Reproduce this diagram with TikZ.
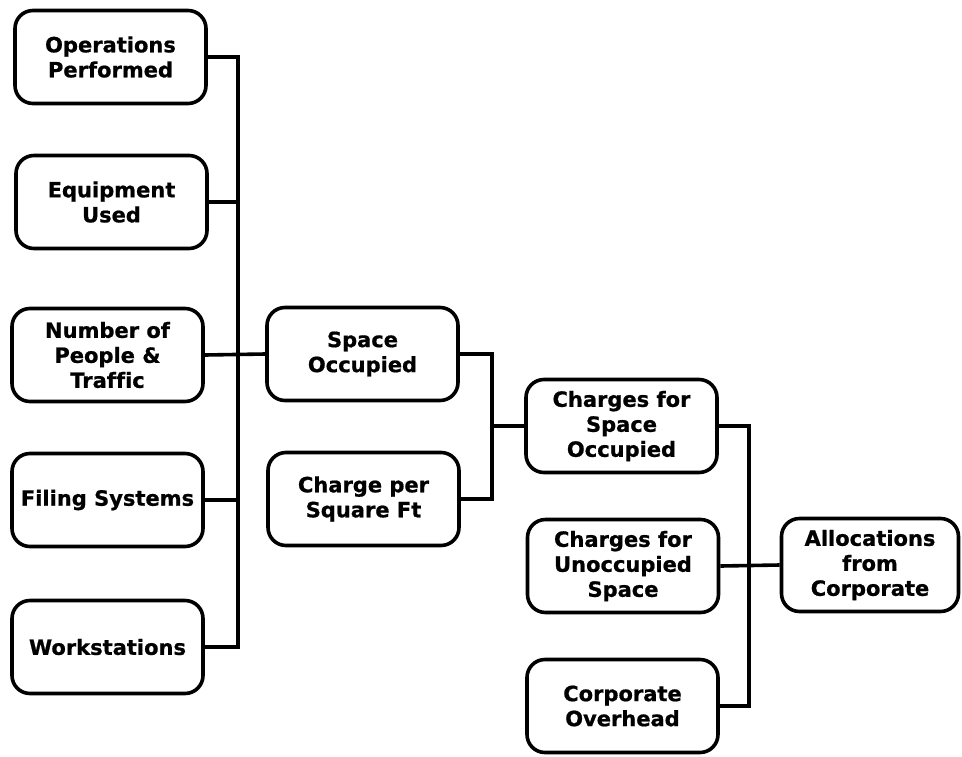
\documentclass[tikz,border=0pt]{standalone}
\usepackage{fontspec}
\setmainfont[Ligatures=NoCommon, BoldFeatures={FakeBold=0.8}]{DejaVu Sans}
\begin{document}
\begin{tikzpicture}[x=1pt,y=-1pt,
  box/.style={draw=black, line width=3.6pt, rounded corners=18pt, fill=white,
    align=center, inner sep=0pt, minimum width=191pt, minimum height=93pt,
    font=\fontsize{21}{25}\selectfont\bfseries},
  conn/.style={draw=black, line width=3.6pt}]
\useasboundingbox (0,0) rectangle (962,756);
% left column
\node[box] (ops)    at (110.5,57)  {Operations\\Performed};
\node[box] (equip)  at (111.5,202) {Equipment\\Used};
\node[box] (people) at (107.5,355) {Number of\\People \&\\Traffic};
\node[box] (filing) at (107.5,500) {Filing Systems};
\node[box] (work)   at (107.5,647) {Workstations};
% middle column
\node[box] (space)  at (362.5,354) {Space\\Occupied};
\node[box] (charge) at (363.5,499) {Charge per\\Square Ft};
% right column
\node[box] (cso)    at (621.5,426) {Charges for\\Space\\Occupied};
\node[box] (cus)    at (623,566)   {Charges for\\Unoccupied\\Space};
\node[box] (co)     at (622.5,706) {Corporate\\Overhead};
\node[box, minimum width=177pt] (alloc) at (870,565) {Allocations\\from\\Corporate};
% trunk coordinates
\coordinate (tl) at (238,355);
\coordinate (tm) at (492,426);
\coordinate (tr) at (749,566);
% left connectors
\draw[conn] (ops.east) -| (tl) |- (work.east);
\draw[conn] (equip.east) -- (equip.east -| tl);
\draw[conn] (filing.east) -- (filing.east -| tl);
\draw[conn] (people.east) -- (space.west);
% middle connectors
\draw[conn] (space.east) -| (tm) |- (charge.east);
\draw[conn] (tm) -- (cso.west);
% right connectors
\draw[conn] (cso.east) -| (tr) |- (co.east);
\draw[conn] (cus.east) -- (alloc.west);
\end{tikzpicture}
\end{document}
